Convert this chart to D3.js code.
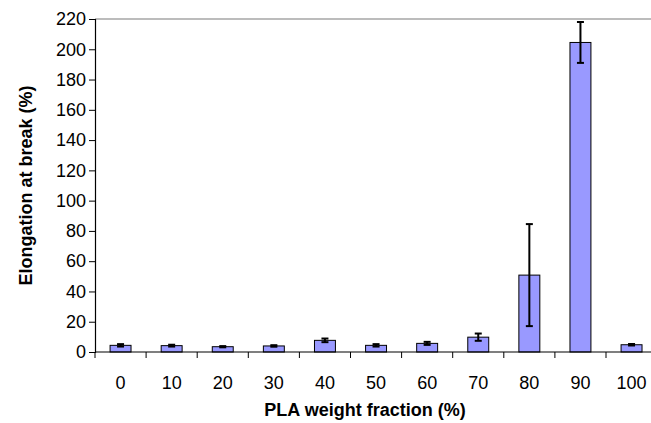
<!DOCTYPE html>
<html>
<head>
<meta charset="utf-8">
<script src="https://cdn.jsdelivr.net/npm/d3@7"></script>
<style>
  body { margin: 0; background: #fff; }
  svg { display: block; font-family: "Liberation Sans", Arial, sans-serif; }
</style>
</head>
<body>
<div id="chart"></div>
<script>
const categories = ["0", "10", "20", "30", "40", "50", "60", "70", "80", "90", "100"];
const elongation = [4.4, 4.2, 3.5, 4.0, 7.7, 4.4, 5.7, 9.8, 50.8, 204.5, 4.8];
const errors = [0.8, 0.6, 0.4, 0.5, 1.2, 0.8, 1.0, 2.4, 33.7, 13.5, 0.5];
const yTicks = [0, 20, 40, 60, 80, 100, 120, 140, 160, 180, 200, 220];

const width = 651;
const height = 423;
const margin = { top: 19, left: 95, bottom: 71 };
const plotRight = margin.left + 11 * 51.1;

const svg = d3
    .select("#chart")
    .append("svg")
    .attr("width", width)
    .attr("height", height);

const x = d3
    .scaleBand()
    .domain(categories)
    .range([margin.left, plotRight])
    .paddingInner(0.59)
    .paddingOuter(0.295);

const y = d3
    .scaleLinear()
    .domain([0, 220])
    .range([height - margin.bottom, margin.top]);

// top border of plot area
svg.append("line")
    .attr("x1", margin.left)
    .attr("x2", width)
    .attr("y1", y(220))
    .attr("y2", y(220))
    .attr("stroke", "#a6a6a6")
    .attr("stroke-width", 1.5);

// bars
svg.selectAll("rect.bar")
    .data(categories)
    .enter()
    .append("rect")
    .attr("class", "bar")
    .attr("x", (d) => x(d))
    .attr("y", (d, i) => y(elongation[i]))
    .attr("width", x.bandwidth())
    .attr("height", (d, i) => y(0) - y(elongation[i]))
    .attr("fill", "#9999ff")
    .attr("stroke", "#000")
    .attr("stroke-width", 1);

// error bars
const err = svg.selectAll("g.err")
    .data(categories)
    .enter()
    .append("g")
    .attr("class", "err")
    .attr("stroke", "#000")
    .attr("stroke-width", 2);

const cx = (d) => x(d) + x.bandwidth() / 2;
err.append("line")
    .attr("x1", cx).attr("x2", cx)
    .attr("y1", (d, i) => y(elongation[i] + errors[i]))
    .attr("y2", (d, i) => y(elongation[i] - errors[i]));
err.append("line")
    .attr("x1", (d) => cx(d) - 3.5).attr("x2", (d) => cx(d) + 3.5)
    .attr("y1", (d, i) => y(elongation[i] + errors[i]))
    .attr("y2", (d, i) => y(elongation[i] + errors[i]));
err.append("line")
    .attr("x1", (d) => cx(d) - 3.5).attr("x2", (d) => cx(d) + 3.5)
    .attr("y1", (d, i) => y(elongation[i] - errors[i]))
    .attr("y2", (d, i) => y(elongation[i] - errors[i]));

// y axis
const yAxis = svg.append("g")
    .attr("transform", `translate(${margin.left},0)`)
    .call(d3.axisLeft(y).tickValues(yTicks).tickSize(6).tickPadding(3));
yAxis.select(".domain").attr("stroke", "#000").attr("stroke-width", 1.2);
yAxis.selectAll("line").attr("stroke", "#000");
yAxis.selectAll("text")
    .attr("fill", "#000")
    .style("font-size", "18px")
    .style("font-family", "'Liberation Sans', Arial, sans-serif");

// x axis: baseline, boundary ticks, labels
const step = x.step();
const base = y(0);
svg.append("line")
    .attr("x1", margin.left).attr("x2", plotRight)
    .attr("y1", base).attr("y2", base)
    .attr("stroke", "#000").attr("stroke-width", 1.2);

svg.selectAll("line.xtick")
    .data(d3.range(categories.length + 1))
    .enter()
    .append("line")
    .attr("class", "xtick")
    .attr("x1", (i) => margin.left + i * step)
    .attr("x2", (i) => margin.left + i * step)
    .attr("y1", base)
    .attr("y2", base + 6)
    .attr("stroke", "#000");

svg.selectAll("text.xlabel")
    .data(categories)
    .enter()
    .append("text")
    .attr("class", "xlabel")
    .attr("x", cx)
    .attr("y", base + 37)
    .attr("text-anchor", "middle")
    .style("font-size", "18px")
    .text((d) => d);

// axis titles
svg.append("text")
    .attr("x", 365)
    .attr("y", 416)
    .attr("text-anchor", "middle")
    .style("font-size", "18px")
    .style("font-weight", "bold")
    .text("PLA weight fraction (%)");

svg.append("text")
    .attr("transform", `translate(32,${(y(0) + y(220)) / 2}) rotate(-90)`)
    .attr("text-anchor", "middle")
    .style("font-size", "18px")
    .style("font-weight", "bold")
    .text("Elongation at break (%)");
</script>
</body>
</html>
